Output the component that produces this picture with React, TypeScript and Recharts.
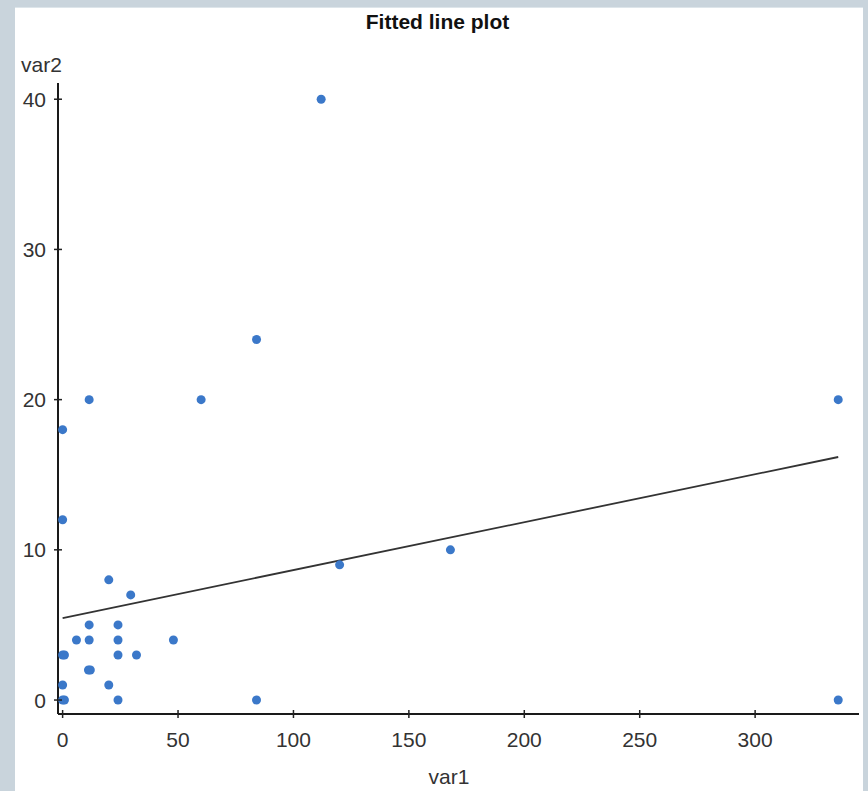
import React from 'react';
import { ScatterChart, Scatter, XAxis, YAxis } from 'recharts';

const var1Values = [112, 84, 60, 11.5, 336, 0, 0, 168, 120, 20, 29.5, 11.5, 24, 6, 11.5, 24, 48, 0, 0.8, 24, 32, 11.2, 12, 0, 20, 0, 0.8, 24, 84, 336];
const var2Values = [40, 24, 20, 20, 20, 18, 12, 10, 9, 8, 7, 5, 5, 4, 4, 4, 4, 3, 3, 3, 3, 2, 2, 1, 1, 0, 0, 0, 0, 0];
const fitX = [0, 336];
const fitY = [5.46, 16.18];
const xTicks = [0, 50, 100, 150, 200, 250, 300];
const yTicks = [0, 10, 20, 30, 40];

const points = var1Values.map((v, i) => ({ var1: v, var2: var2Values[i] }));
const fitLine = fitX.map((v, i) => ({ var1: v, var2: fitY[i] }));

const FONT = '"Liberation Sans", Arial, sans-serif';

const YTick = (props: any) => {
  const { x, y, payload } = props;
  return (
    <g>
      <line x1={x + 12 - 4} x2={x + 12 + 4} y1={y} y2={y} stroke="#222" strokeWidth={1.5} />
      <text x={x} y={y} dy="0.36em" textAnchor="end" fontSize={21} fill="#333" fontFamily={FONT}>
        {payload.value}
      </text>
    </g>
  );
};

const XTick = (props: any) => {
  const { x, y, payload } = props;
  return (
    <g>
      <line x1={x} x2={x} y1={y - 18 - 4} y2={y - 18 + 4} stroke="#222" strokeWidth={1.5} />
      <text x={x} y={y} dy="0.71em" textAnchor="middle" fontSize={21} fill="#333" fontFamily={FONT}>
        {payload.value}
      </text>
    </g>
  );
};

const Dot = (props: any) => <circle cx={props.cx} cy={props.cy} r={4.5} fill="#3b78c9" />;
const NoDot = () => <g />;

export default function App() {
  return (
    <div style={{ position: 'absolute', left: 0, top: 0, width: 868, height: 791, background: '#c9d4dc', overflow: 'hidden', fontFamily: FONT }}>
      <div style={{ position: 'absolute', left: 15, top: 7, width: 848, height: 784, background: '#ffffff', borderTop: '1px solid #dde5ea', boxSizing: 'border-box' }} />
      <div style={{ position: 'absolute', left: 0, top: 0 }}>
        <ScatterChart width={868} height={791} margin={{ top: 83, right: 9, bottom: 47, left: 18 }}>
          <XAxis
            type="number"
            dataKey="var1"
            domain={[-2, 345]}
            ticks={xTicks}
            allowDataOverflow
            height={30}
            tickSize={0}
            tickMargin={18}
            tickLine={false}
            tick={<XTick />}
            axisLine={{ stroke: '#1a1a1a', strokeWidth: 2 }}
            interval={0}
          />
          <YAxis
            type="number"
            dataKey="var2"
            domain={[-0.93, 41.08]}
            ticks={yTicks}
            allowDataOverflow
            width={40}
            tickSize={0}
            tickMargin={12}
            tickLine={false}
            tick={<YTick />}
            axisLine={{ stroke: '#1a1a1a', strokeWidth: 2 }}
            interval={0}
          />
          <Scatter data={fitLine} line={{ stroke: '#333', strokeWidth: 1.8 }} lineType="joint" shape={<NoDot />} isAnimationActive={false} legendType="none" />
          <Scatter data={points} shape={<Dot />} isAnimationActive={false} />
        </ScatterChart>
      </div>
      <div style={{ position: 'absolute', left: 0, width: 875, top: 9, textAlign: 'center', fontWeight: 'bold', fontSize: 21, color: '#111', lineHeight: '26px' }}>
        Fitted line plot
      </div>
      <div style={{ position: 'absolute', left: 21, top: 53, fontSize: 21, color: '#333', lineHeight: '24px' }}>var2</div>
      <div style={{ position: 'absolute', left: 349, width: 200, top: 765, textAlign: 'center', fontSize: 21, color: '#333', lineHeight: '24px' }}>var1</div>
    </div>
  );
}
